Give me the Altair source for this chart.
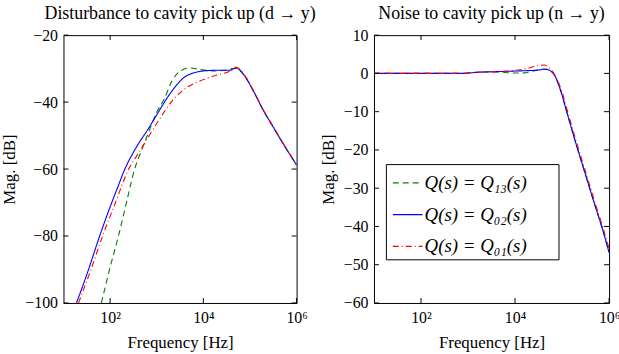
import altair as alt
import pandas as pd

FONT = "Liberation Serif, DejaVu Serif, serif"

series_names = ["Q(s) = Q₁₃(s)", "Q(s) = Q₀₂(s)", "Q(s) = Q₀₁(s)"]
series_colors = ["#008000", "#0000ff", "#ff0000"]
series_dashes = [[6, 4], [1, 0], [6, 3, 1, 3]]

# ---- Left panel: disturbance to cavity pick up (d -> y) ----
d_q13_f = [65, 100, 151, 224, 331, 490, 692, 1000, 1445, 2138, 3236, 5248, 8710,
           19498, 31623, 47863, 52481, 72444, 117490, 190546, 316228, 562341, 1000000]
d_q13_db = [-100, -89.3, -80, -70, -60.3, -53.8, -48.5, -43, -39.1, -33.6, -30.7, -29.8, -30.3,
            -30.7, -30.4, -29.9, -30.0, -31.7, -36.6, -42.3, -47.5, -53.3, -58.8]

d_q02_f = [19, 32, 59, 100, 145, 200, 347, 692, 1000, 1995, 3802, 7413, 12023,
           19953, 37154, 47863, 52481, 72444, 117490, 190546, 316228, 562341, 1000000]
d_q02_db = [-100, -91.3, -80.2, -71.3, -65.5, -60.5, -54.0, -47.5, -43.8, -37.2, -32.7, -31.0, -30.6,
            -30.5, -30.5, -29.9, -29.9, -31.7, -36.6, -42.3, -47.5, -53.3, -58.8]

d_q01_f = [21, 40, 69, 126, 251, 427, 692, 1122, 2344, 4467, 8710, 19498, 37154,
           43652, 52481, 72444, 117490, 190546, 316228, 562341, 1000000]
d_q01_db = [-100, -89.5, -80, -70.5, -60, -54.8, -50.0, -45.3, -39, -35.6, -33.6, -31.9, -30.7,
            -29.5, -29.7, -31.5, -36.4, -42.2, -47.3, -53.2, -58.6]

# ---- Right panel: noise to cavity pick up (n -> y) ----
n_q13_f = [10, 100, 724, 1585, 3981, 8913, 15849, 28184, 44668, 56234, 69183, 93325,
           128825, 199526, 316228, 501187, 707946, 1000000]
n_q13_db = [0, 0, 0, 0.3, 0.4, 0.1, 0.15, 0.8, 1.1, 0.7, -0.4, -4.5,
            -10.5, -18.5, -26.5, -34.5, -40.3, -46.8]

n_q02_f = [10, 100, 724, 1585, 5012, 15849, 29512, 44668, 56234, 67608, 93325,
           128825, 199526, 316228, 501187, 707946, 1000000]
n_q02_db = [0, 0, 0, 0.3, 0.5, 0.7, 0.85, 1.1, 0.7, -0.3, -4.5,
            -10.5, -18.5, -26.5, -34.5, -40.3, -46.8]

n_q01_f = [10, 100, 724, 1585, 5012, 10000, 18621, 25704, 35481, 41687, 52481, 70795,
           97724, 134896, 208930, 331131, 524807, 741310, 1000000]
n_q01_db = [0, 0, 0, 0.3, 0.5, 0.8, 1.35, 1.8, 2.1, 2.2, 1.5, -0.5,
            -4.5, -10.5, -18.5, -26.5, -34.5, -40.3, -45.8]

x_ticks = [100, 10000, 1000000]
left_y_ticks = [-100, -80, -60, -40, -20]
right_y_ticks = [-60, -50, -40, -30, -20, -10, 0, 10]

left_title = "Disturbance to cavity pick up (d → y)"
right_title = "Noise to cavity pick up (n → y)"
x_title = "Frequency [Hz]"
y_title = "Mag. [dB]"


def make_df(fs, dbs):
    rows = []
    for k, (f, d) in enumerate(zip(fs, dbs)):
        for fi, di in zip(f, d):
            rows.append({"f": fi, "db": di, "series": series_names[k], "k": k})
    return pd.DataFrame(rows)


left_df = make_df([d_q13_f, d_q02_f, d_q01_f], [d_q13_db, d_q02_db, d_q01_db])
right_df = make_df([n_q13_f, n_q02_f, n_q01_f], [n_q13_db, n_q02_db, n_q01_db])

label_expr = "datum.value == 100 ? '10²' : datum.value == 10000 ? '10⁴' : '10⁶'"


def panel(df, ydom, yticks, title, width, height, show_legend):
    xs = alt.Scale(type="log", domain=[10, 1000000], nice=False)
    ys = alt.Scale(domain=ydom, nice=False, zero=False)
    xax = alt.Axis(values=x_ticks, labelExpr=label_expr, grid=False, ticks=False, tickSize=0,
                   domain=False, labelPadding=7, title=x_title, titlePadding=9,
                   labelFont=FONT, labelFontSize=16, titleFont=FONT, titleFontSize=17,
                   titleFontWeight="normal", labelColor="black", titleColor="black",
                   labelFlush=False, labelOverlap=False)
    yax = alt.Axis(values=yticks, grid=False, ticks=False, tickSize=0, domain=False,
                   labelPadding=6, title=y_title, titlePadding=6,
                   labelFont=FONT, labelFontSize=16, titleFont=FONT, titleFontSize=17,
                   titleFontWeight="normal", labelColor="black", titleColor="black",
                   labelFlush=False, labelOverlap=False)
    if show_legend:
        # an invisible title on the right side only widens the legend box
        leg = alt.Legend(title="MM", titleOrient="right", titleFontSize=10, titleOpacity=0,
                         titlePadding=10, titleFont=FONT,
                         orient="none", legendX=12, legendY=130,
                         symbolType="stroke", symbolSize=900, symbolStrokeWidth=1.2,
                         symbolOffset=3,
                         labelFont=FONT, labelFontSize=19, labelFontStyle="italic",
                         labelColor="black", strokeColor="black", fillColor="white",
                         padding=3, rowPadding=6, labelOffset=1)
    else:
        leg = None
    color = alt.Color("series:N", scale=alt.Scale(domain=series_names, range=series_colors),
                      legend=leg)
    dash = alt.StrokeDash("series:N", scale=alt.Scale(domain=series_names, range=series_dashes),
                          legend=leg)
    lines = alt.Chart(df).mark_line(strokeWidth=1.1, clip=True, interpolate="monotone").encode(
        x=alt.X("f:Q", scale=xs, axis=xax),
        y=alt.Y("db:Q", scale=ys, axis=yax),
        color=color,
        strokeDash=dash,
        detail="k:N",
        order=alt.Order("f:Q"),
    )
    xt = pd.DataFrame({"f": x_ticks})
    yt = pd.DataFrame({"db": yticks})
    tick_b = alt.Chart(xt).mark_rule(color="black", strokeWidth=1).encode(
        x=alt.X("f:Q", scale=xs, axis=xax), y=alt.value(height), y2=alt.value(height - 5))
    tick_t = alt.Chart(xt).mark_rule(color="black", strokeWidth=1).encode(
        x=alt.X("f:Q", scale=xs, axis=xax), y=alt.value(0), y2=alt.value(5))
    tick_l = alt.Chart(yt).mark_rule(color="black", strokeWidth=1).encode(
        y=alt.Y("db:Q", scale=ys, axis=yax), x=alt.value(0), x2=alt.value(5))
    tick_r = alt.Chart(yt).mark_rule(color="black", strokeWidth=1).encode(
        y=alt.Y("db:Q", scale=ys, axis=yax), x=alt.value(width - 5), x2=alt.value(width))
    return alt.layer(lines, tick_b, tick_t, tick_l, tick_r).properties(
        width=width, height=height,
        title=alt.TitleParams(title, font=FONT, fontSize=18, fontWeight="normal",
                              color="black", offset=4),
    )


left = panel(left_df, [-100, -20], left_y_ticks, left_title, 235, 270, False)
right = panel(right_df, [-60, 10], right_y_ticks, right_title, 237, 270, True)

chart = alt.hconcat(left, right, spacing=2).properties(
    padding={"left": 0, "top": 3, "right": -2, "bottom": 0},
    background="white",
).configure_view(stroke="black", strokeWidth=1).resolve_scale(
    color="shared", strokeDash="shared").resolve_legend(
    color="independent", strokeDash="independent")

chart.save("out.html", embed_options={"renderer": "svg", "actions": False})
